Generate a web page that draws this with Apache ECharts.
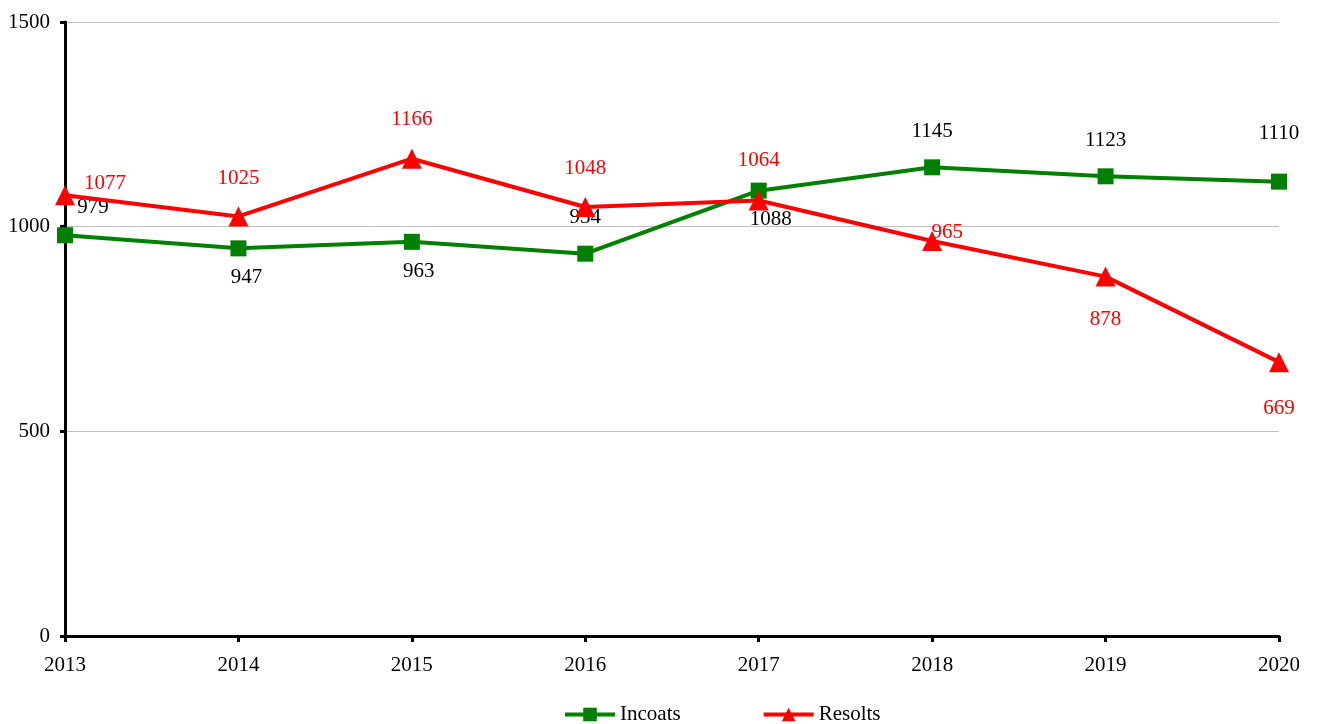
<!DOCTYPE html>
<html>
<head>
<meta charset="utf-8">
<script src="https://cdn.jsdelivr.net/npm/echarts@6/dist/echarts.min.js"></script>
<style>html,body{margin:0;padding:0;background:#fff;}#c{width:1318px;height:724px;}</style>
</head>
<body>
<div id="c"></div>
<script>
const years = ['2013','2014','2015','2016','2017','2018','2019','2020'];
const incoats = [979, 947, 963, 934, 1088, 1145, 1123, 1110];
const resolts = [1077, 1025, 1166, 1048, 1064, 965, 878, 669];
const yTicks = [0, 500, 1000, 1500];

// label offsets (style only)
const incoatsOffsets = [[28,-28],[8,29],[7,30],[0,-36],[12,29],[0,-36],[0,-36],[0,-48]];
const resoltsOffsets = [[40,-12],[0,-38],[0,-39],[0,-39],[0,-40],[15,-9],[0,43],[0,46]];

const FONT = '"Liberation Serif", "DejaVu Serif", serif';

function mk(vals, offs) {
  return vals.map((v, i) => ({
    value: v,
    label: { offset: offs[i] }
  }));
}

const chart = echarts.init(document.getElementById('c'));
chart.setOption({
  animation: false,
  backgroundColor: '#fff',
  textStyle: { fontFamily: FONT },
  grid: { left: 65, right: 39, top: 22, bottom: 88, containLabel: false },
  legend: {
    top: 699,
    left: 558,
    itemWidth: 50,
    itemHeight: 17,
    itemGap: 81,
    lineStyle: { width: 4 },
    textStyle: { fontFamily: FONT, fontSize: 21, color: '#000' },
    data: ['Incoats', 'Resolts']
  },
  xAxis: {
    type: 'category',
    data: years,
    boundaryGap: false,
    axisLine: { lineStyle: { color: '#000', width: 3 } },
    axisTick: { show: true, length: 6, alignWithLabel: true, lineStyle: { color: '#000', width: 3 } },
    axisLabel: { color: '#000', fontFamily: FONT, fontSize: 21, margin: 19 },
    splitLine: { show: false }
  },
  yAxis: {
    type: 'value',
    min: yTicks[0],
    max: yTicks[yTicks.length - 1],
    interval: 500,
    axisLine: { show: true, lineStyle: { color: '#000', width: 3 } },
    axisTick: { show: true, length: 5, lineStyle: { color: '#000', width: 3 } },
    axisLabel: { color: '#000', fontFamily: FONT, fontSize: 21, margin: 15, formatter: v => String(v) },
    splitLine: { show: true, lineStyle: { color: '#c0c0c0', width: 1 } }
  },
  series: [
    {
      name: 'Incoats',
      type: 'line',
      data: mk(incoats, incoatsOffsets),
      symbol: 'rect',
      symbolSize: 16,
      lineStyle: { color: '#008000', width: 4 },
      itemStyle: { color: '#008000' },
      label: {
        show: true, position: 'inside', align: 'center', verticalAlign: 'middle',
        color: '#000', fontFamily: FONT, fontSize: 21
      },
      z: 2
    },
    {
      name: 'Resolts',
      type: 'line',
      data: mk(resolts, resoltsOffsets),
      symbol: 'triangle',
      symbolSize: 20,
      lineStyle: { color: '#ff0000', width: 4 },
      itemStyle: { color: '#ff0000' },
      label: {
        show: true, position: 'inside', align: 'center', verticalAlign: 'middle',
        color: '#ff0000', fontFamily: FONT, fontSize: 21
      },
      z: 3
    }
  ]
});
</script>
</body>
</html>
